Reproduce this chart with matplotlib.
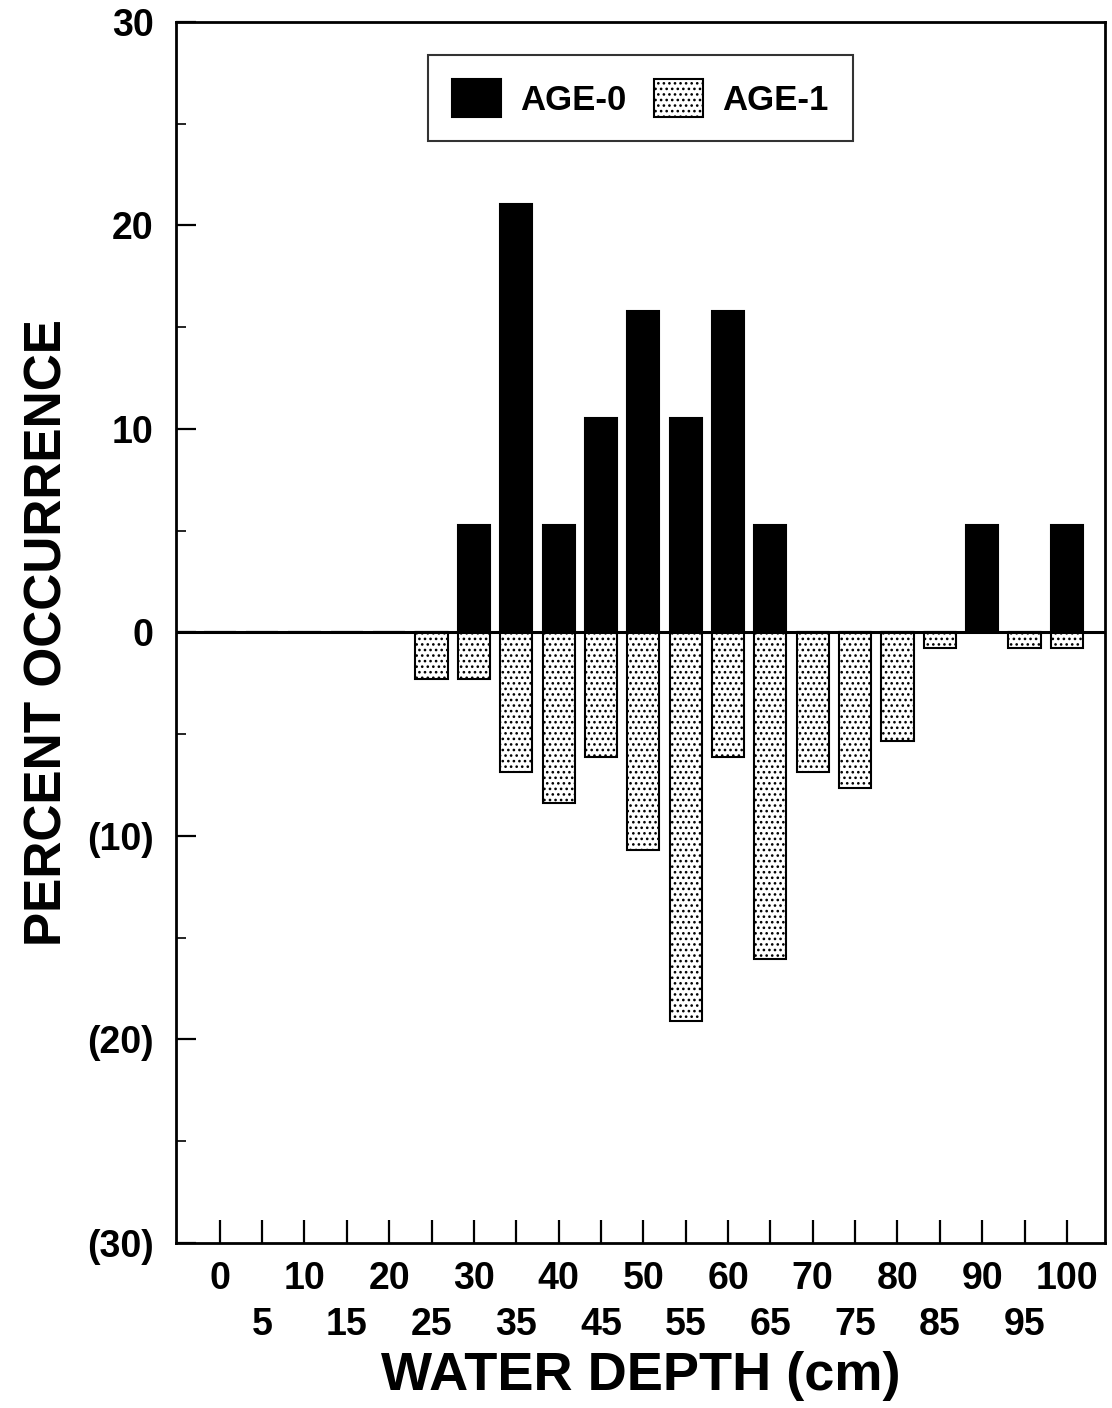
import matplotlib
matplotlib.use("Agg")
import matplotlib.pyplot as plt
from matplotlib.ticker import FixedLocator

# Water depth classes (cm)
depths = [0, 5, 10, 15, 20, 25, 30, 35, 40, 45, 50,
          55, 60, 65, 70, 75, 80, 85, 90, 95, 100]

# Percent occurrence by depth class
age0 = [0, 0, 0, 0, 0, 0, 5.26, 21.05, 5.26, 10.53, 15.79,
        10.53, 15.79, 5.26, 0, 0, 0, 0, 5.26, 0, 5.26]
age1 = [0, 0, 0, 0, 0, 2.29, 2.29, 6.87, 8.40, 6.11, 10.69,
        19.08, 6.11, 16.03, 6.87, 7.63, 5.34, 0.76, 0, 0.76, 0.76]

y_ticks = [30, 20, 10, 0, -10, -20, -30]
y_tick_labels = ["30", "20", "10", "0", "(10)", "(20)", "(30)"]

FONT = "Liberation Sans"
plt.rcParams["font.family"] = [FONT, "DejaVu Sans"]
plt.rcParams["font.weight"] = "bold"
plt.rcParams["hatch.linewidth"] = 1.1

fig = plt.figure(figsize=(11.12, 14.08), dpi=100)
ax = fig.add_axes([0.158, 0.1172, 0.8357, 0.8672])

bar_w = 3.8
ax.bar(depths, age0, width=bar_w, color="black", edgecolor="black",
       linewidth=1.5, label="AGE-0", zorder=3)
ax.bar(depths, [-v for v in age1], width=bar_w, color="white",
       edgecolor="black", hatch="...", linewidth=1.5, label="AGE-1",
       zorder=3)

ax.axhline(0, color="black", linewidth=2.2, zorder=4)

ax.set_xlim(-5.2, 104.5)
ax.set_ylim(-30, 30)

# y axis: major ticks every 10, minor every 5, all pointing inwards
ax.set_yticks(y_ticks)
ax.set_yticklabels(y_tick_labels)
ax.yaxis.set_minor_locator(FixedLocator([25, 15, 5, -5, -15, -25]))
ax.tick_params(axis="y", which="major", direction="in", length=14.5,
               width=1.6, labelsize=27, pad=16)
ax.tick_params(axis="y", which="minor", direction="in", length=7,
               width=1.2)
ax.tick_params(axis="y", which="both", right=False)

# x axis: two staggered rows of labels
evens = depths[0::2]
odds = depths[1::2]
ax.set_xticks(evens)
ax.set_xticklabels([str(d) for d in evens])
ax.set_xticks(odds, minor=True)
ax.set_xticklabels([str(d) for d in odds], minor=True)
ax.tick_params(axis="x", which="both", direction="in", length=16.5,
               width=1.6, labelsize=27, top=False)
ax.tick_params(axis="x", which="major", pad=13)
ax.tick_params(axis="x", which="minor", pad=46)

for lbl in ax.get_xticklabels(which="both") + ax.get_yticklabels():
    lbl.set_fontweight("bold")

for s in ax.spines.values():
    s.set_linewidth(2.0)

ax.set_xlabel("WATER DEPTH (cm)", fontsize=39, fontweight="bold",
              labelpad=6)
ax.set_ylabel("PERCENT OCCURRENCE", fontsize=37, fontweight="bold",
              labelpad=10)

leg = ax.legend(loc="upper center", bbox_to_anchor=(0.5, 0.973), ncol=2,
                fontsize=25, frameon=True, fancybox=False, edgecolor="black",
                handlelength=1.4, handleheight=1.3, handletextpad=0.55,
                columnspacing=0.8, borderpad=0.7, borderaxespad=0)
leg.get_frame().set_linewidth(1.5)
for t in leg.get_texts():
    t.set_fontweight("bold")

fig.savefig("out.png", dpi=100)
